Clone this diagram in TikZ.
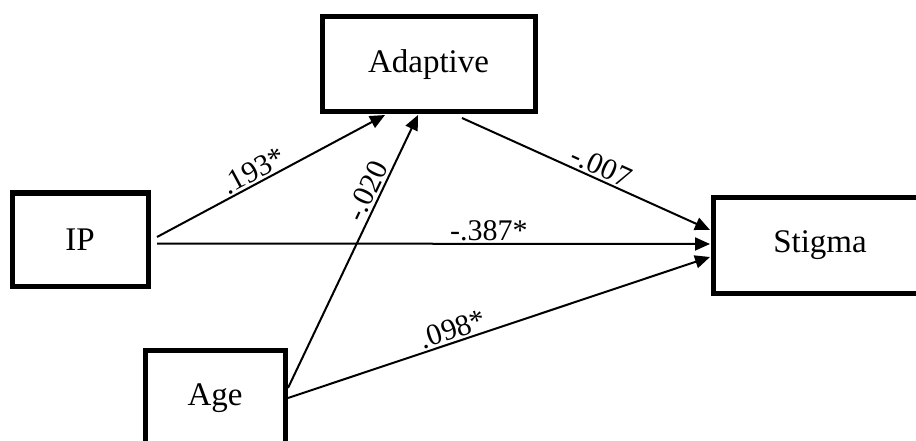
\documentclass[tikz,border=0pt]{standalone}
\usepackage{fontspec}
\setmainfont{Liberation Serif}
\usetikzlibrary{arrows.meta,calc}
\begin{document}
\begin{tikzpicture}[x=1pt,y=-1pt,
  box/.style={draw,line width=5pt,rectangle,inner sep=0pt,outer sep=0pt,font=\fontsize{33}{40}\selectfont},
  conn/.style={line width=2pt,-{Triangle[length=15pt,width=13pt]}},
  lab/.style={font=\fontsize{30}{36}\selectfont,inner sep=2pt,sloped,above}
]
\clip (0,0) rectangle (916,441);
\node[box,minimum width=136pt,minimum height=93pt] (ip) at (80,239.5) {IP};
\node[box,minimum width=213pt,minimum height=95pt] (adaptive) at (428.5,64.5) {Adaptive};
\node[box,minimum width=140pt,minimum height=96pt] (age) at (215,398) {Age};
\node[box,minimum width=214pt,minimum height=96pt] (stigma) at (820,245) {Stigma};

\draw[conn] ($(ip.east)+(9,-2.5)$) -- node[lab,pos=0.45] (l1) {.193*} ($(adaptive.south)+(-43.5,3)$);
\draw[conn] ($(age.east)+(3,-10)$) -- node[lab,pos=0.70] (l2) {-.020} ($(adaptive.south)+(-10.5,3)$);
\draw[conn] ($(adaptive.south)+(33.5,6)$) -- node[lab,pos=0.54] (l3) {-.007} ($(stigma.west)+(-3,-15)$);
\draw[conn] ($(ip.east)+(9,4)$) -- node[lab,pos=0.60] (l4) {-.387*} ($(stigma.west)+(-3,-1)$);
\draw[conn] ($(age.east)+(3,0)$) -- node[lab,pos=0.40] (l5) {.098*} ($(stigma.west)+(-3,12)$);
\end{tikzpicture}
\end{document}
